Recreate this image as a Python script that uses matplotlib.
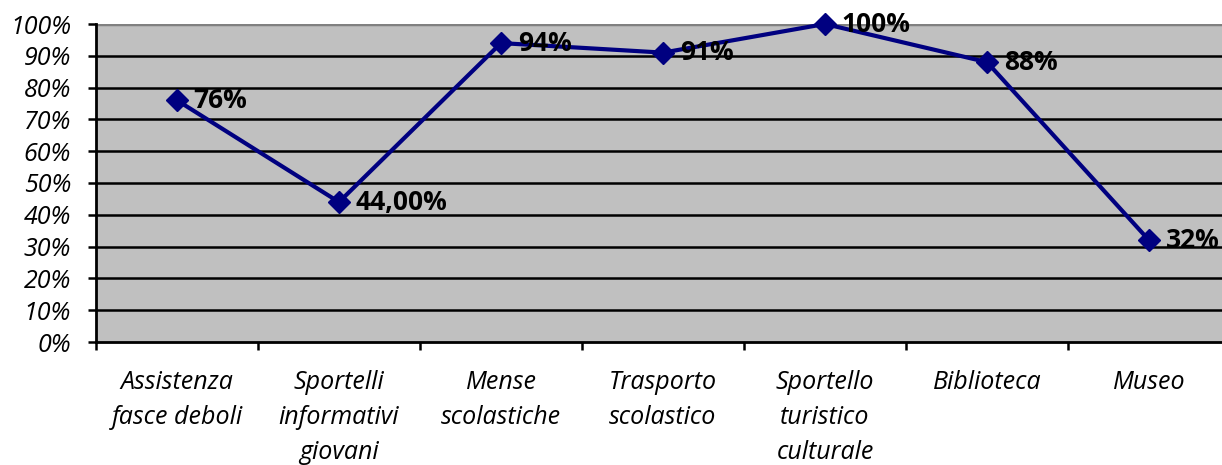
import matplotlib.pyplot as plt
from matplotlib.ticker import FixedLocator, NullFormatter

categories = ['Assistenza\nfasce deboli', 'Sportelli\ninformativi\ngiovani', 'Mense\nscolastiche',
              'Trasporto\nscolastico', 'Sportello\nturistico\nculturale', 'Biblioteca', 'Museo']
values = [76, 44, 94, 91, 100, 88, 32]
value_labels = ['76%', '44,00%', '94%', '91%', '100%', '88%', '32%']
y_ticks = list(range(0, 101, 10))

plt.rcParams['font.family'] = ['Open Sans', 'DejaVu Sans']

fig = plt.figure(figsize=(12.22, 4.65), dpi=100)
ax = fig.add_axes([96/1222, 1 - 342/465, 1134/1222, 318/465])
ax.set_facecolor('#C0C0C0')

x = [i + 0.5 for i in range(len(values))]
ax.plot(x, values, color='#000080', linewidth=3, marker='D', markersize=11.5,
        zorder=4, clip_on=False)
for xi, v, lab in zip(x, values, value_labels):
    ax.annotate(lab, (xi, v), xytext=(12, 0), textcoords='offset points',
                va='center', ha='left', fontsize=19, fontweight='bold', zorder=5,
                annotation_clip=False)

ax.set_xlim(0, len(values))
ax.set_ylim(0, 100)

# grid lines
for t in y_ticks[1:-1]:
    ax.axhline(t, color='black', linewidth=1.8, zorder=1)
ax.axhline(100, color='#808080', linewidth=2.5, zorder=1)

ax.set_yticks(y_ticks)
ax.set_yticklabels([f'{t}%' for t in y_ticks], fontsize=18, style='italic')
ax.xaxis.set_major_locator(FixedLocator(range(len(values) + 1)))
ax.xaxis.set_major_formatter(NullFormatter())
ax.xaxis.set_minor_locator(FixedLocator(x))
ax.set_xticklabels(categories, minor=True, fontsize=18, style='italic', linespacing=1.52)
ax.tick_params(axis='x', which='minor', length=0, pad=20)
ax.tick_params(axis='x', which='major', length=6, width=1.8, direction='out')
ax.tick_params(axis='y', length=6, width=1.8, direction='out', pad=12)

for s in ['top', 'right']:
    ax.spines[s].set_visible(False)
ax.spines['left'].set_linewidth(2)
ax.spines['bottom'].set_linewidth(2)

fig.savefig('out.png', dpi=100)
